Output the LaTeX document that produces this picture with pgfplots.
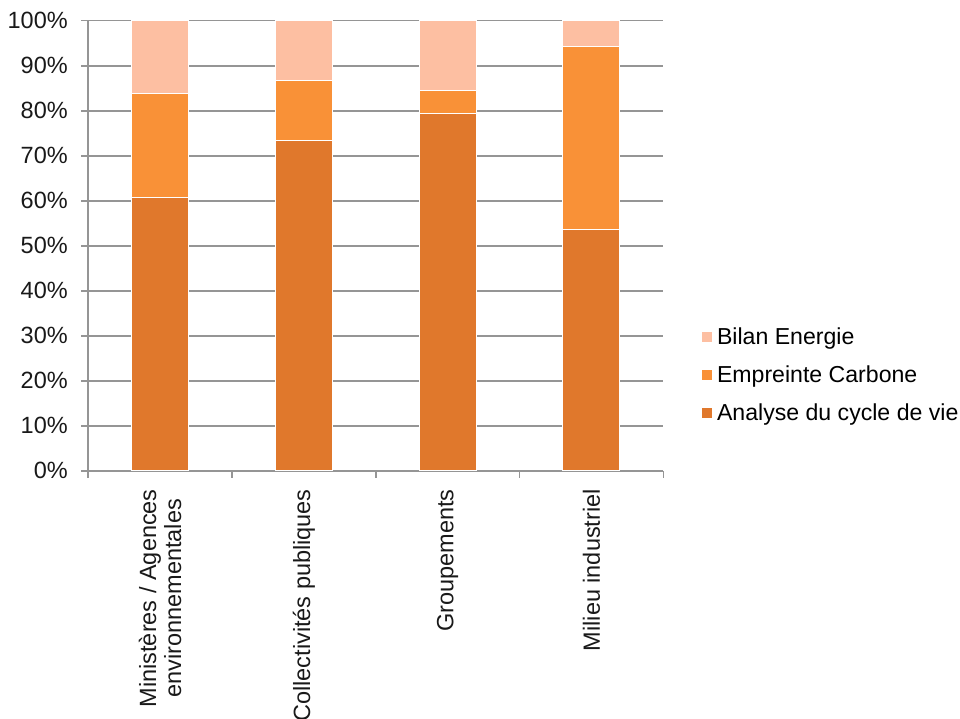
\documentclass[border=0pt]{standalone}
\usepackage{fontspec}
\setmainfont{Liberation Sans}
\usepackage{pgfplots}
\pgfplotsset{compat=1.18}
\definecolor{acv}{HTML}{E0782C}
\definecolor{ec}{HTML}{F99137}
\definecolor{be}{HTML}{FDBFA2}
\definecolor{gridc}{HTML}{959595}
\pgfplotsset{sqlegend/.style={legend image code/.code={\fill[##1,draw=none] (0pt,-5pt) rectangle (10pt,5pt);}}}
\begin{document}
\begin{tikzpicture}[x=1pt,y=1pt]
\begin{axis}[
  at={(0,0)}, anchor=south west,
  scale only axis, width=575pt, height=450pt,
  ybar stacked, bar width=57pt,
  xmin=-0.5, xmax=3.5, ymin=0, ymax=100,
  axis x line*=bottom, axis y line*=left,
  axis line style={draw=gridc, line width=1.6pt},
  ytick={0,10,...,100},
  yticklabel={\pgfmathprintnumber{\tick}\%},
  /pgf/number format/assume math mode=true,
  ymajorgrids, grid style={draw=gridc, line width=1.6pt},
  xtick={0,1,2,3},
  xticklabels={{Ministères / Agences\\environnementales},{Collectivités publiques},{Groupements},{Milieu industriel}},
  minor xtick={-0.5,0.5,1.5,2.5,3.5},
  xtick style={draw=none},
  minor x tick style={draw=gridc, line width=1.6pt},
  ytick style={draw=gridc, line width=1.6pt},
  tick align=outside,
  major tick length=7pt, minor tick length=7pt,
  tick label style={font=\fontsize{23.5}{25}\selectfont, text=black!90},
  xticklabel style={rotate=90, anchor=east, align=center},
  xticklabel shift=8pt,
  yticklabel style={xshift=-10pt},
  legend style={draw=none, fill=none, at={(1.067,0.2127)}, anchor=west, inner sep=0pt,
    font=\fontsize{23.1}{25}\selectfont, row sep=16pt, legend cell align=left,
    nodes={inner xsep=5pt}},
  reverse legend,
  every axis plot/.append style={draw=white, line width=1pt, sqlegend},
]
\addplot[fill=acv] coordinates {(0,60.7) (1,73.3) (2,79.4) (3,53.6)};
\addlegendentry{Analyse du cycle de vie}
\addplot[fill=ec] coordinates {(0,23.2) (1,13.4) (2,5.2) (3,40.6)};
\addlegendentry{Empreinte Carbone}
\addplot[fill=be] coordinates {(0,16.1) (1,13.3) (2,15.4) (3,5.8)};
\addlegendentry{Bilan Energie}
\end{axis}
\pgfresetboundingbox
\path[use as bounding box] (-88.3,-247.3) rectangle (871.7,470.7);
\end{tikzpicture}
\end{document}
